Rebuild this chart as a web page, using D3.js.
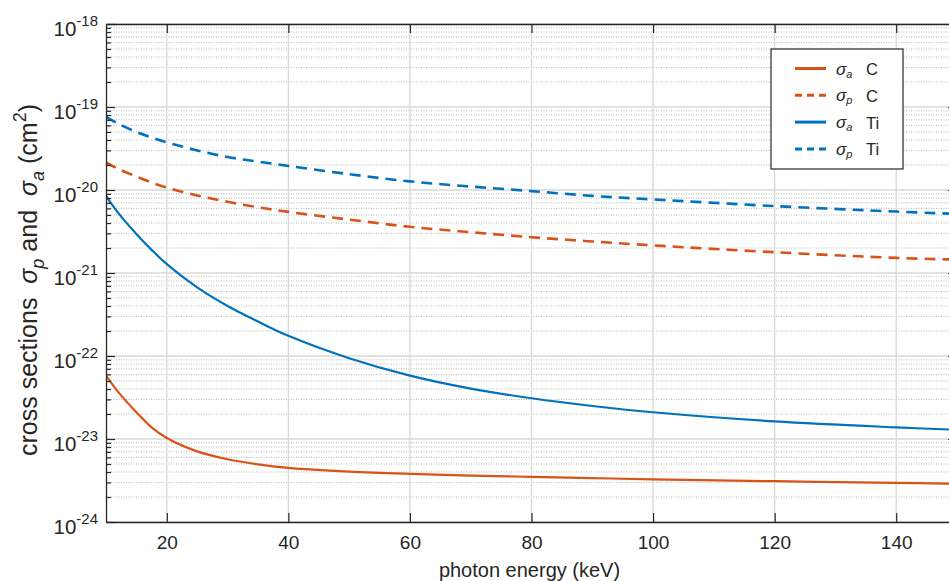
<!DOCTYPE html>
<html>
<head>
<meta charset="utf-8">
<script src="https://cdn.jsdelivr.net/npm/d3@7"></script>
<style>
  html, body { margin: 0; padding: 0; background: #fff; overflow: hidden; }
  svg { display: block; font-family: "Liberation Sans", Arial, Helvetica, sans-serif; }
</style>
</head>
<body>
<div id="chart"></div>
<script>
// Cross sections vs photon energy
const energies = [10, 12, 15, 17.5, 20, 25, 30, 35, 40, 50, 60, 70, 80, 90, 100, 120, 140, 150];
const sigmaAC  = [5.8e-23, 3.7e-23, 2.1e-23, 1.38e-23, 1.03e-23, 7.1e-24, 5.7e-24, 4.95e-24, 4.5e-24, 4.05e-24, 3.8e-24, 3.63e-24, 3.5e-24, 3.38e-24, 3.27e-24, 3.1e-24, 2.96e-24, 2.9e-24];
const sigmaPC  = [2.15e-20, 1.8e-20, 1.45e-20, 1.23e-20, 1.07e-20, 8.6e-21, 7.2e-21, 6.2e-21, 5.45e-21, 4.4e-21, 3.6e-21, 3.1e-21, 2.7e-21, 2.4e-21, 2.15e-21, 1.78e-21, 1.52e-21, 1.45e-21];
const sigmaATi = [8.5e-21, 5.3e-21, 2.95e-21, 1.9e-21, 1.28e-21, 6.7e-22, 4.0e-22, 2.6e-22, 1.75e-22, 9.4e-23, 5.8e-23, 4.05e-23, 3.1e-23, 2.5e-23, 2.1e-23, 1.63e-23, 1.38e-23, 1.29e-23];
const sigmaPTi = [7.6e-20, 6.3e-20, 5.0e-20, 4.3e-20, 3.75e-20, 3.0e-20, 2.5e-20, 2.2e-20, 1.95e-20, 1.55e-20, 1.27e-20, 1.1e-20, 9.7e-21, 8.5e-21, 7.7e-21, 6.4e-21, 5.5e-21, 5.15e-21];

const seriesNames = ['σa C', 'σp C', 'σa Ti', 'σp Ti'];
const xTicks = [20, 40, 60, 80, 100, 120, 140];
const yExponents = [-24, -23, -22, -21, -20, -19, -18];

function drawChart() {
    const W = 949, H = 581;
    const box = { left: 106, right: 957, top: 24, bottom: 522 };
    const axisColor = '#262626';
    const orange = '#D95319', blue = '#0072BD';

    const svg = d3.select('#chart').append('svg')
        .attr('width', W)
        .attr('height', H);

    const x = d3.scaleLinear().domain([10, 150]).range([box.left, box.right]);
    const y = d3.scaleLog().domain([1e-24, 1e-18]).range([box.bottom, box.top]);

    const majors = yExponents.map(e => Math.pow(10, e));
    const minors = [];
    yExponents.slice(0, -1).forEach(e => {
        for (let k = 2; k <= 9; k++) minors.push(k * Math.pow(10, e));
    });

    // Grid
    const grid = svg.append('g');
    grid.selectAll('.minor')
        .data(minors)
        .enter().append('line')
        .attr('x1', box.left).attr('x2', box.right)
        .attr('y1', d => y(d)).attr('y2', d => y(d))
        .attr('stroke', '#b8b8b8')
        .attr('stroke-width', 1)
        .attr('stroke-dasharray', '1,1.5');

    grid.selectAll('.major')
        .data(majors)
        .enter().append('line')
        .attr('x1', box.left).attr('x2', box.right)
        .attr('y1', d => y(d)).attr('y2', d => y(d))
        .attr('stroke', '#d8d8d8')
        .attr('stroke-width', 1.3);

    grid.selectAll('.vgrid')
        .data(xTicks)
        .enter().append('line')
        .attr('x1', d => x(d)).attr('x2', d => x(d))
        .attr('y1', box.top).attr('y2', box.bottom)
        .attr('stroke', '#d8d8d8')
        .attr('stroke-width', 1.3);

    // Curves
    svg.append('clipPath').attr('id', 'clip')
        .append('rect')
        .attr('x', box.left).attr('y', box.top)
        .attr('width', box.right - box.left)
        .attr('height', box.bottom - box.top);

    const series = [
        { name: seriesNames[0], values: sigmaAC, color: orange, dashed: false },
        { name: seriesNames[1], values: sigmaPC, color: orange, dashed: true },
        { name: seriesNames[2], values: sigmaATi, color: blue, dashed: false },
        { name: seriesNames[3], values: sigmaPTi, color: blue, dashed: true }
    ];

    const line = d3.line()
        .x((d, i) => x(energies[i]))
        .y(d => y(d))
        .curve(d3.curveCatmullRom.alpha(0.5));

    svg.append('g')
        .attr('clip-path', 'url(#clip)')
        .selectAll('path')
        .data(series)
        .enter().append('path')
        .attr('fill', 'none')
        .attr('stroke', d => d.color)
        .attr('stroke-width', d => d.dashed ? 2.6 : 2.2)
        .attr('stroke-dasharray', d => d.dashed ? '11,7' : null)
        .attr('d', d => line(d.values));

    // Axes (box with inward ticks)
    const styleAxis = g => {
        g.selectAll('path').attr('stroke', axisColor).attr('stroke-width', 1.3);
        g.selectAll('line').attr('stroke', axisColor).attr('stroke-width', 1.2);
        g.selectAll('text').attr('fill', axisColor);
    };

    svg.append('g')
        .attr('transform', `translate(0,${box.bottom})`)
        .call(d3.axisBottom(x).tickValues(xTicks).tickSize(-9).tickSizeOuter(0).tickPadding(14))
        .call(g => g.selectAll('text')
            .attr('font-size', 19)
            .attr('font-family', '"Liberation Sans", Arial, sans-serif'))
        .call(styleAxis);

    svg.append('g')
        .attr('transform', `translate(0,${box.top})`)
        .call(d3.axisTop(x).tickValues(xTicks).tickSize(-9).tickSizeOuter(0).tickFormat(''))
        .call(styleAxis);

    svg.append('g')
        .attr('transform', `translate(${box.left},0)`)
        .call(d3.axisLeft(y).tickValues(minors).tickSize(-5).tickSizeOuter(0).tickFormat(''))
        .call(g => g.select('.domain').remove())
        .call(styleAxis);

    const yAxis = svg.append('g')
        .attr('transform', `translate(${box.left},0)`)
        .call(d3.axisLeft(y).tickValues(majors).tickSize(-9).tickSizeOuter(0).tickFormat(''))
        .call(styleAxis);

    svg.append('g')
        .attr('transform', `translate(${box.right},0)`)
        .call(d3.axisRight(y).tickValues(minors).tickSize(-5).tickSizeOuter(0).tickFormat(''))
        .call(g => g.select('.domain').remove())
        .call(styleAxis);

    svg.append('g')
        .attr('transform', `translate(${box.right},0)`)
        .call(d3.axisRight(y).tickValues(majors).tickSize(-9).tickSizeOuter(0).tickFormat(''))
        .call(styleAxis);

    // Y tick labels 10^n
    yAxis.selectAll('.tick').each(function (d) {
        const t = d3.select(this).append('text')
            .attr('x', -8)
            .attr('y', 11)
            .attr('text-anchor', 'end')
            .attr('fill', axisColor)
            .attr('font-size', 20.5);
        t.append('tspan').text('10');
        t.append('tspan')
            .attr('dy', -10)
            .attr('font-size', 15)
            .text(String(Math.round(Math.log10(d))));
    });

    // X label
    svg.append('text')
        .attr('x', (box.left + box.right) / 2 - 2)
        .attr('y', 577)
        .attr('text-anchor', 'middle')
        .attr('fill', axisColor)
        .attr('font-size', 20)
        .text('photon energy (keV)');

    // Y label
    const yl = svg.append('text')
        .attr('transform', `translate(37,280) rotate(-90)`)
        .attr('text-anchor', 'middle')
        .attr('fill', axisColor)
        .attr('font-size', 25);
    yl.append('tspan').text('cross sections\u00a0\u00a0');
    yl.append('tspan').attr('font-style', 'italic').text('σ');
    yl.append('tspan').attr('dy', 7).attr('font-size', 18).attr('font-style', 'italic').text('p');
    yl.append('tspan').attr('dy', -7).text('\u00a0and\u00a0\u00a0');
    yl.append('tspan').attr('font-style', 'italic').text('σ');
    yl.append('tspan').attr('dy', 7).attr('font-size', 18).attr('font-style', 'italic').text('a');
    yl.append('tspan').attr('dy', -7).text('\u00a0(cm');
    yl.append('tspan').attr('dy', -11).attr('font-size', 18).text('2');
    yl.append('tspan').attr('dy', 11).text(')');

    // Legend
    const legend = svg.append('g').attr('transform', 'translate(771,49)');
    legend.append('rect')
        .attr('width', 132)
        .attr('height', 120)
        .attr('fill', '#fff')
        .attr('stroke', axisColor)
        .attr('stroke-width', 1.2);

    const rows = legend.selectAll('.row')
        .data(series)
        .enter().append('g')
        .attr('transform', (d, i) => `translate(0,${19.5 + i * 26.8})`);

    rows.append('line')
        .attr('x1', 24).attr('x2', 55)
        .attr('stroke', d => d.color)
        .attr('stroke-width', 3)
        .attr('stroke-dasharray', d => d.dashed ? '7,5' : null);

    rows.each(function (d) {
        const parts = d.name.split(' ');
        const t = d3.select(this).append('text')
            .attr('x', 65)
            .attr('y', 6)
            .attr('fill', axisColor)
            .attr('font-size', 17)
            .attr('font-style', 'italic');
        t.append('tspan').text('σ');
        t.append('tspan').attr('dy', 3).attr('font-size', 11).text(parts[0].slice(1));
        d3.select(this).append('text')
            .attr('x', 95)
            .attr('y', 6.5)
            .attr('fill', axisColor)
            .attr('font-size', 16.5)
            .text(parts[1]);
    });
}

drawChart();
</script>
</body>
</html>
